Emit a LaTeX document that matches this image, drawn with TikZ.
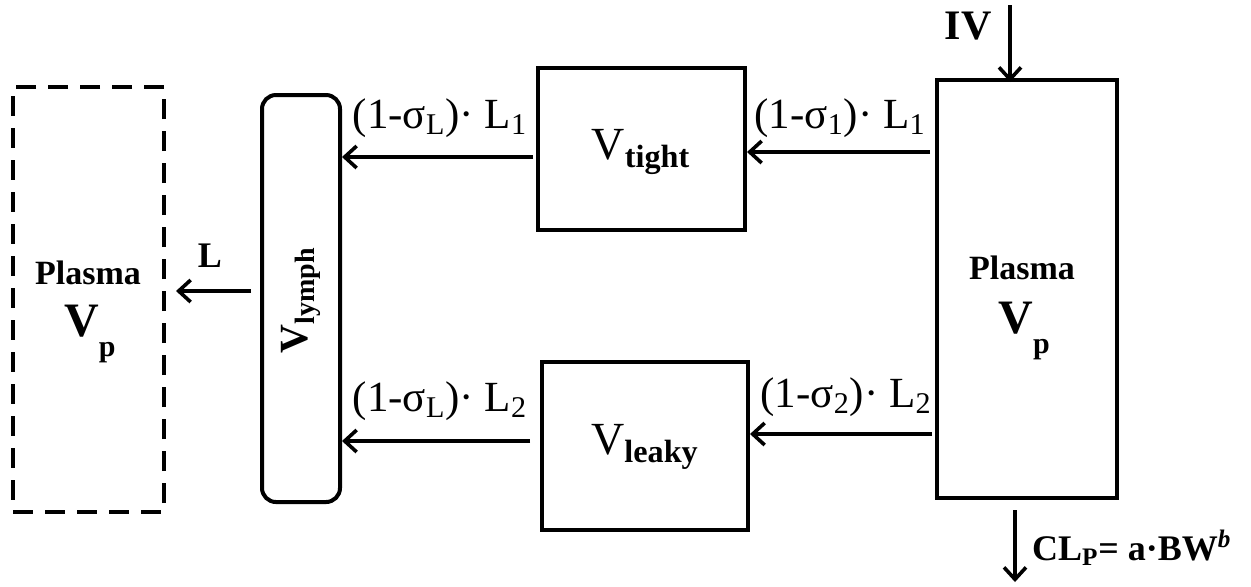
\documentclass[tikz,border=0pt]{standalone}
\usepackage{fontspec}
\setmainfont{Liberation Serif}
\usetikzlibrary{arrows.meta}
\newcommand{\lowsub}[1]{\raisebox{-0.42em}{\fontsize{15}{16}\selectfont #1}}
\begin{document}
\begin{tikzpicture}[x=0.5pt,y=-0.5pt,
  line width=2pt,
  comp/.style={draw, line width=2pt, inner sep=0pt, anchor=center},
  arr/.style={-{Straight Barb[length=6pt,width=11pt,line width=1.8pt]}, line width=2pt},
  rate/.style={font=\fontsize{21.5}{24}\selectfont, inner sep=0pt},
  bold/.style={font=\bfseries, inner sep=0pt}]
\useasboundingbox (0,0) rectangle (1251,586);

% compartments
\node[comp, dashed, dash pattern=on 10pt off 6pt, minimum width=75.5pt, minimum height=212.5pt] (pout) at (88.5,299.5) {};
\node[comp, rounded corners=7pt, minimum width=39pt, minimum height=203.5pt] (lymph) at (301,298.5) {};
\node[comp, minimum width=103.5pt, minimum height=81pt] (tight) at (641.5,149) {};
\node[comp, minimum width=103pt, minimum height=84pt] (leaky) at (645,446) {};
\node[comp, minimum width=90pt, minimum height=209pt] (plasma) at (1027,289) {};

% compartment labels
\node[bold, font=\bfseries\fontsize{17}{20}\selectfont] (ploutname) at (88,273) {Plasma};
\node[bold, font=\bfseries\fontsize{24}{26}\selectfont, anchor=base] (ploutvol) at (90,336) {V\lowsub{p}};
\node[bold, font=\bfseries\fontsize{17}{20}\selectfont] (plname) at (1022,268) {Plasma};
\node[bold, font=\bfseries\fontsize{24}{26}\selectfont, anchor=base] (plvol) at (1024,333) {V\lowsub{p}};
\node[inner sep=0pt, font=\fontsize{23}{26}\selectfont] (tightname) at (641,152) {V\textsubscript{\bfseries tight}};
\node[inner sep=0pt, font=\fontsize{23}{26}\selectfont] (leakyname) at (645,447) {V\textsubscript{\bfseries leaky}};
\node[inner sep=0pt, rotate=90, font=\bfseries\fontsize{20}{24}\selectfont] (lymphname) at (301,300) {V\textsubscript{lymph}};

% flows
\coordinate (ivtop) at (1010,5);
\coordinate (clend) at (1015,582);
\draw[arr] (plasma.west |- 0,152) ++(-5,0) -- (tight.east |- 0,152);
\draw[arr] (tight.west |- 0,157) ++(-3,0) -- (lymph.east |- 0,157);
\draw[arr] (plasma.west |- 0,434) ++(-3,0) -- (leaky.east |- 0,434);
\draw[arr] (leaky.west |- 0,441) ++(-10,0) -- (lymph.east |- 0,441);
\draw[arr] (lymph.west |- 0,291) ++(-9,0) -- ([xshift=5pt]pout.east |- 0,291);
\draw[arr] (ivtop) -- ([yshift=-2pt]plasma.north -| ivtop);
\draw[arr] ([yshift=-5pt]plasma.south -| clend) -- (clend);

% flow labels
\node[rate] (r1) at (840,118) {(1-σ\textsubscript{1})· L\textsubscript{1}};
\node[rate] (rl1) at (440,118) {(1-σ\textsubscript{L})· L\textsubscript{1}};
\node[rate] (r2) at (846,397) {(1-σ\textsubscript{2})· L\textsubscript{2}};
\node[rate] (rl2) at (440,401) {(1-σ\textsubscript{L})· L\textsubscript{2}};
\node[bold, font=\bfseries\fontsize{18}{20}\selectfont] (lflow) at (210,256) {L};
\node[bold, font=\bfseries\fontsize{21}{24}\selectfont] (ivlab) at (968,26) {IV};
\node[bold, anchor=west, font=\bfseries\fontsize{18}{20}\selectfont] (cllab) at (1030,548) {CL\textsubscript{P}= a·BW\textsuperscript{\itshape b}};
\end{tikzpicture}
\end{document}
